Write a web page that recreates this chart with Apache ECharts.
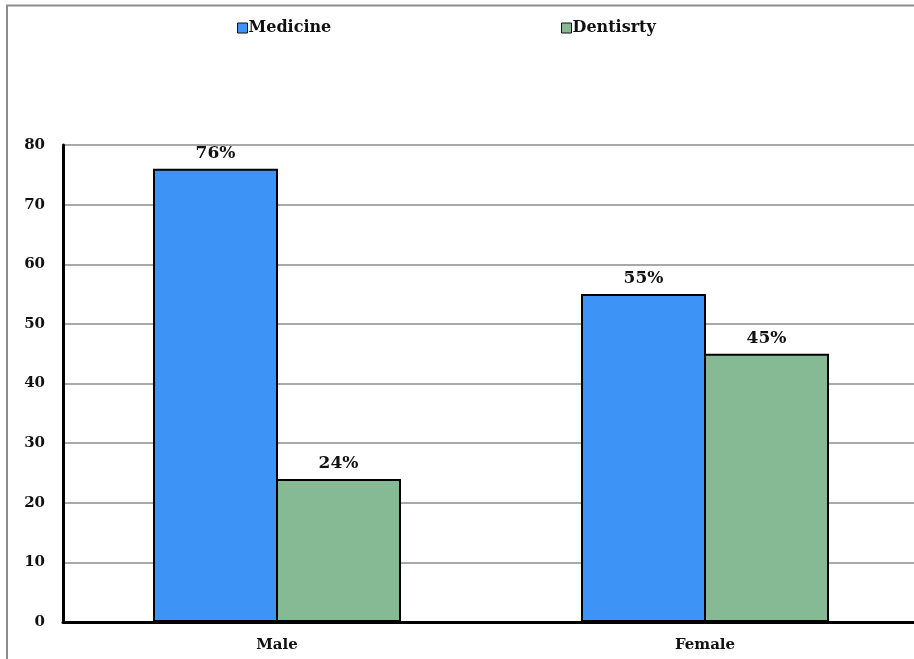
<!DOCTYPE html>
<html>
<head>
<meta charset="utf-8">
<script src="https://cdn.jsdelivr.net/npm/echarts@6/dist/echarts.min.js"></script>
<style>
  html, body { margin: 0; padding: 0; background: #fff; overflow: hidden; }
  /* the plot area runs slightly past the right edge of the window */
  #chart { width: 920px; height: 659px; }
</style>
</head>
<body>
<div id="chart"></div>
<script>
// Share of students by gender and faculty (%)
const categories = ['Male', 'Female'];
const medicine = [76, 55];
const dentistry = [24, 45];
const yTicks = { min: 0, max: 80, interval: 10 };

const FONT = '"DejaVu Serif", "Liberation Serif", serif';
const BLUE = '#3e93f6';
const GREEN = '#85ba94';

const chart = echarts.init(document.getElementById('chart'), null, { renderer: 'canvas' });

const labelStyle = {
  show: true,
  position: 'top',
  distance: 7,
  formatter: p => p.value + '%',
  fontFamily: FONT,
  fontWeight: 'bold',
  fontSize: 17,
  color: '#111'
};

function legendAt(left, name) {
  return {
    top: 15,
    left: left,
    itemWidth: 10,
    itemHeight: 10,
    icon: 'rect',
    textStyle: { fontFamily: FONT, fontWeight: 'bold', fontSize: 16, color: '#111', padding: [0, 0, 0, -4] },
    data: [{ name: name, itemStyle: { borderColor: '#111', borderWidth: 1 } }]
  };
}

chart.setOption({
  animation: false,
  backgroundColor: '#fff',
  graphic: [{
    type: 'rect',
    shape: { x: 7, y: 5.5, width: 940, height: 700 },
    style: { fill: 'none', stroke: '#8c8c8c', lineWidth: 2 },
    silent: true
  }],
  legend: [legendAt(232, 'Medicine'), legendAt(556, 'Dentisrty')],
  grid: { left: 63, top: 145, width: 856, bottom: 37, containLabel: false },
  xAxis: {
    type: 'category',
    data: categories,
    axisLine: { show: true, lineStyle: { color: '#000', width: 3 } },
    axisTick: { show: false },
    axisLabel: { fontFamily: FONT, fontWeight: 'bold', fontSize: 15, color: '#111', margin: 16 }
  },
  yAxis: {
    type: 'value',
    min: yTicks.min,
    max: yTicks.max,
    interval: yTicks.interval,
    axisLine: { show: true, lineStyle: { color: '#000', width: 3 } },
    axisTick: { show: false },
    axisLabel: { fontFamily: FONT, fontWeight: 'bold', fontSize: 15, color: '#111', margin: 18 },
    splitLine: { show: true, lineStyle: { color: '#8c8c8c', width: 1.5 } }
  },
  series: [
    {
      name: 'Medicine',
      type: 'bar',
      data: medicine,
      barWidth: 125,
      barGap: '-1.6%',
      itemStyle: { color: BLUE, borderColor: '#000', borderWidth: 2 },
      label: labelStyle
    },
    {
      name: 'Dentisrty',
      type: 'bar',
      data: dentistry,
      barWidth: 125,
      barGap: '-1.6%',
      itemStyle: { color: GREEN, borderColor: '#000', borderWidth: 2 },
      label: labelStyle
    }
  ]
});
</script>
</body>
</html>
